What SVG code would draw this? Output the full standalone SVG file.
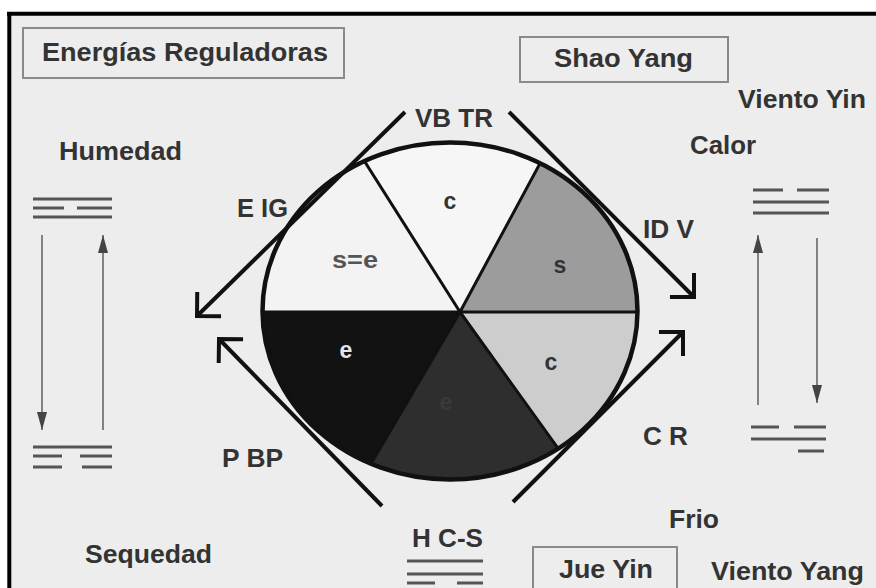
<svg xmlns="http://www.w3.org/2000/svg" width="876" height="588" viewBox="0 0 876 588">
  <style>
    .t { font-family: "Liberation Sans", Arial, sans-serif; font-weight: bold; font-size: 25px; fill: #333; }
    .p { font-family: "Liberation Sans", Arial, sans-serif; font-weight: bold; font-size: 23px; text-anchor: middle; }
    .box { fill: none; stroke: #8a8a8a; stroke-width: 2; }
    .tri { stroke: #555; stroke-width: 3; fill: none; }
    .tan { stroke: #111; stroke-width: 4; fill: none; marker-end: url(#chev); }
    .side { stroke: #666; stroke-width: 1.6; fill: none; marker-end: url(#head); }
    .rad { stroke: #111; stroke-width: 3; fill: none; }
  </style>
  <defs>
    <marker id="chev" markerUnits="userSpaceOnUse" viewBox="-24 -22 30 44" refX="0" refY="0" markerWidth="30" markerHeight="44" orient="auto">
      <path d="M-17,-17 L0,0 L-17,17" fill="none" stroke="#111" stroke-width="4"/>
    </marker>
    <marker id="head" markerUnits="userSpaceOnUse" viewBox="-20 -7 22 14" refX="0" refY="0" markerWidth="22" markerHeight="14" orient="auto">
      <path d="M-18,-5 L0,0 L-18,5 Z" fill="#444"/>
    </marker>
    <clipPath id="ell">
      <ellipse cx="450" cy="311" rx="187.5" ry="168.5"/>
    </clipPath>
  </defs>

  <rect x="0" y="0" width="876" height="588" fill="#ffffff"/>
  <rect x="9" y="14" width="867" height="574" fill="#ededed"/>
  <!-- frame -->
  <path d="M7,13.8 H876 M9.3,12 V588" stroke="#000" stroke-width="4" fill="none"/>

  <g id="box-energias">
    <rect class="box" x="23" y="28" width="321" height="50"/>
    <text class="t" x="42" y="61" textLength="286" lengthAdjust="spacingAndGlyphs">Energías Reguladoras</text>
  </g>
  <g id="box-shao-yang">
    <rect class="box" x="520" y="37" width="208" height="45"/>
    <text class="t" x="554" y="67" textLength="139" lengthAdjust="spacingAndGlyphs">Shao Yang</text>
  </g>
  <g id="box-jue-yin">
    <rect class="box" x="533" y="547" width="144" height="60"/>
    <text class="t" x="559" y="578" textLength="94" lengthAdjust="spacingAndGlyphs">Jue Yin</text>
  </g>

  <g id="label-viento-yin"><text class="t" x="738" y="108" textLength="128" lengthAdjust="spacingAndGlyphs">Viento Yin</text></g>
  <g id="label-vb-tr"><text class="t" x="415" y="127" textLength="78" lengthAdjust="spacingAndGlyphs">VB TR</text></g>
  <g id="label-humedad"><text class="t" x="59" y="160" textLength="123" lengthAdjust="spacingAndGlyphs">Humedad</text></g>
  <g id="label-calor"><text class="t" x="690" y="154" textLength="66" lengthAdjust="spacingAndGlyphs">Calor</text></g>
  <g id="label-e-ig"><text class="t" x="237" y="217" textLength="51" lengthAdjust="spacingAndGlyphs">E IG</text></g>
  <g id="label-id-v"><text class="t" x="643" y="238" textLength="51" lengthAdjust="spacingAndGlyphs">ID V</text></g>
  <g id="label-p-bp"><text class="t" x="222" y="467" textLength="61" lengthAdjust="spacingAndGlyphs">P BP</text></g>
  <g id="label-c-r"><text class="t" x="643" y="445" textLength="45" lengthAdjust="spacingAndGlyphs">C R</text></g>
  <g id="label-frio"><text class="t" x="669" y="528" textLength="50" lengthAdjust="spacingAndGlyphs">Frio</text></g>
  <g id="label-sequedad"><text class="t" x="85" y="563" textLength="127" lengthAdjust="spacingAndGlyphs">Sequedad</text></g>
  <g id="label-viento-yang"><text class="t" x="711" y="580" textLength="153" lengthAdjust="spacingAndGlyphs">Viento Yang</text></g>

  <g id="pie">
    <g clip-path="url(#ell)">
      <polygon points="460,312 60,312 60,-60 227.5,-55.5" fill="#f3f3f3"/>
      <polygon points="460,312 227.5,-55.5 657.5,-55.5" fill="#f6f6f6"/>
      <polygon points="460,312 657.5,-55.5 860,-60 860,312" fill="#9c9c9c"/>
      <polygon points="460,312 860,312 860,650 702.5,649.5" fill="#cdcdcd"/>
      <polygon points="460,312 702.5,649.5 242.5,682" fill="#2e2e2e"/>
      <polygon points="460,312 242.5,682 60,682 60,312" fill="#121212"/>
      <path class="rad" d="M250,312 H660 M460,312 L320,91 M460,312 L579,91 M460,312 L606,515 M460,312 L328,537"/>
    </g>
    <ellipse cx="450" cy="311" rx="187.5" ry="168.5" fill="none" stroke="#111" stroke-width="4.5"/>
    <text class="p" x="355" y="268" fill="#555" textLength="46" lengthAdjust="spacingAndGlyphs">s=e</text>
    <text class="p" x="450" y="209" fill="#333">c</text>
    <text class="p" x="560" y="273" fill="#333">s</text>
    <text class="p" x="551" y="370" fill="#333">c</text>
    <text class="p" x="346" y="358" fill="#e6e6e6">e</text>
    <text class="p" x="446" y="410" fill="#3a3a3a">e</text>
  </g>

  <g id="trigram-humedad">
    <path class="tri" d="M33,199 H112 M33,208 H64 M77,208 H112 M33,217 H112"/>
  </g>
  <g id="trigram-sequedad">
    <path class="tri" d="M33,447 H112 M33,456 H62 M80,456 H112 M33,467 H62 M82,467 H112"/>
  </g>
  <g id="trigram-calor">
    <path class="tri" d="M753,190 H783 M797,190 H829 M753,202 H829 M753,213 H829"/>
  </g>
  <g id="trigram-viento-yang">
    <path class="tri" d="M751,427 H779 M794,427 H826 M751,439 H826 M798,451 H824"/>
  </g>
  <g id="label-h-cs">
    <text class="t" x="412" y="547" textLength="71" lengthAdjust="spacingAndGlyphs">H C-S</text>
    <path class="tri" d="M407,561 H483 M407,574 H483 M407,583 H435 M457,583 H483"/>
  </g>

  <g id="connectors">
    <path class="tan" d="M405,112 L197,316"/>
    <path class="tan" d="M509,112 L694,297"/>
    <path class="tan" d="M513,502 L683,332"/>
    <path class="tan" d="M382,506 L219,339"/>
    <path class="side" d="M42,235 V430"/>
    <path class="side" d="M103,430 V235"/>
    <path class="side" d="M758,405 V235"/>
    <path class="side" d="M817,238 V403"/>
  </g>
</svg>
